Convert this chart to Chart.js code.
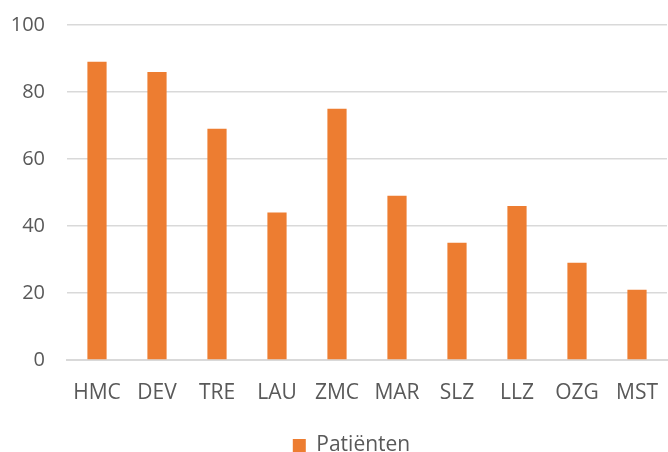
<!DOCTYPE html>
<html>
<head>
<meta charset="utf-8">
<script src="https://cdn.jsdelivr.net/npm/chart.js@4.4.1/dist/chart.umd.min.js"></script>
<style>
  html, body { margin: 0; padding: 0; background: #fff; }
  #wrap { width: 668px; height: 452px; }
</style>
</head>
<body>
<div id="wrap"><canvas id="myChart" width="668" height="452"></canvas></div>
<script>
// data
const labels = ["HMC", "DEV", "TRE", "LAU", "ZMC", "MAR", "SLZ", "LLZ", "OZG", "MST"];
const patienten = [89, 86, 69, 44, 75, 49, 35, 46, 29, 21];
const yTicks = [0, 20, 40, 60, 80, 100];

const textColor = "#595959";
const fontFamily = "'Open Sans', 'Liberation Sans', sans-serif";
const noColor = "rgba(0,0,0,0)";

const data = {
  labels: labels,
  datasets: [
    {
      label: "Patiënten",
      backgroundColor: "#ED7D31",
      borderWidth: 0,
      data: patienten,
      categoryPercentage: 1,
      barPercentage: 0.32,
    },
  ],
};

// legend sits a bit right of the canvas centre in the original
const legendShift = {
  id: "legendShift",
  afterLayout(chart) {
    chart.legend.left += 36;
  },
};

const config = {
  type: "bar",
  data,
  plugins: [legendShift],
  options: {
    responsive: false,
    animation: false,
    layout: { padding: { top: 25, right: 1, left: 0, bottom: -14 } },
    plugins: {
      tooltip: { enabled: false },
      legend: {
        position: "bottom",
        labels: {
          color: textColor,
          font: { family: fontFamily, size: 21 },
          boxWidth: 13,
          boxHeight: 13,
          padding: 1,
        },
      },
    },
    scales: {
      x: {
        // invisible tick marks used only as spacing under the axis line
        grid: { color: noColor, drawOnChartArea: false, tickLength: 20 },
        border: { display: true, color: "#D9D9D9", width: 2 },
        ticks: {
          color: textColor,
          font: { family: fontFamily, size: 21 },
          padding: 0,
          maxRotation: 0,
        },
        afterFit: function (scale) {
          scale.height = 74;
        },
      },
      y: {
        min: 0,
        max: 100,
        afterBuildTicks: function (scale) {
          scale.ticks = yTicks.map((v) => ({ value: v }));
        },
        grid: { color: "#D9D9D9", lineWidth: 1.5, tickColor: noColor, tickLength: 22 },
        border: { display: false },
        ticks: {
          color: textColor,
          font: { family: fontFamily, size: 20 },
          padding: 0,
        },
        afterFit: function (scale) {
          scale.width = 67;
        },
      },
    },
  },
};

var patientChart = new Chart(document.getElementById("myChart"), config);
</script>
</body>
</html>
